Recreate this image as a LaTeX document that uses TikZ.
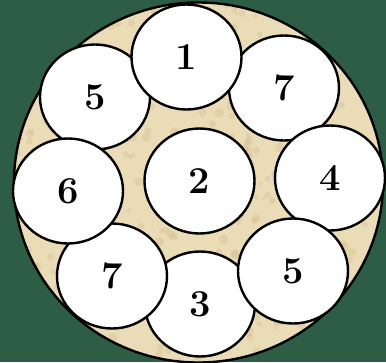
\documentclass[tikz,border=0pt]{standalone}
\usetikzlibrary{shapes.geometric}
\definecolor{board}{HTML}{2D5E45}
\definecolor{parch}{HTML}{EBDCB8}
\definecolor{parchdark}{HTML}{D2BC8C}
\tikzset{
  disc/.style={ellipse, draw=black, fill=white, line width=2.4pt,
    minimum width=110pt, minimum height=105pt, inner sep=0pt,
    font=\fontsize{38}{40}\selectfont\bfseries},
  rim/.style={draw=black, line width=2.4pt},
}

\begin{document}
\begin{tikzpicture}[x=1pt, y=-1pt]
  % Hintergrund
  \fill[board] (0,0) rectangle (386,362);
  \useasboundingbox (0,0) rectangle (386,362);
  % Teller mit Pergament-Flecken
  \fill[parch] (198.5,182.5) ellipse [x radius=184.5, y radius=180];
  \begin{scope}
    \clip (198.5,182.5) ellipse [x radius=184.5, y radius=180];
    \pgfmathsetseed{11}
    \foreach \i in {1,...,500}
      \fill[parchdark, opacity=0.35] ({198.5+184*rand},{182.5+180*rand}) circle ({1.5+3.5*rnd});
  \end{scope}
  \draw[rim] (198.5,182.5) ellipse [x radius=184.5, y radius=180];
  % Scheiben (Reihenfolge = Ueberdeckung)
  \node[disc] (bottom)   at (200,304)   {3};
  \node[disc] (lowleft)  at (112,276)   {7};
  \node[disc] (upleft)   at (95,97)     {5};
  \node[disc] (upright)  at (284,88)    {7};
  \node[disc] (top)      at (186.5,57)  {1};
  \node[disc] (right)    at (330,178)   {4};
  \node[disc] (lowright) at (293,271)   {5};
  \node[disc] (left)     at (68,191)    {6};
  \node[disc] (mid)      at (199.5,181) {2};
\end{tikzpicture}
\end{document}
